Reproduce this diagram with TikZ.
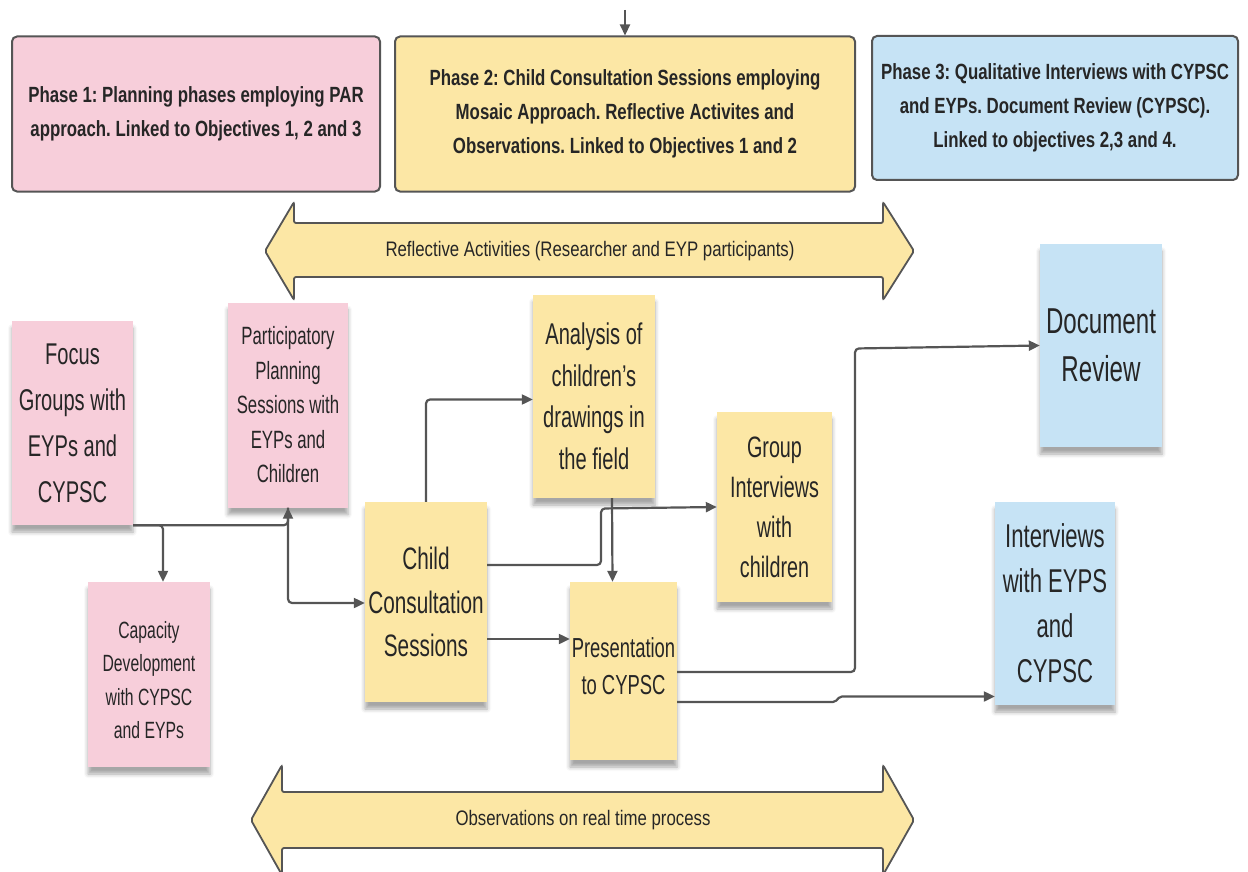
\documentclass[tikz,border=0pt]{standalone}
\usepackage{fontspec}
\setmainfont{Liberation Sans}[FakeStretch=0.67]
\newfontfamily\phasefont{Liberation Sans}[FakeStretch=0.765]
\newfontfamily\bandfont{Liberation Sans}[FakeStretch=0.8]
\usetikzlibrary{arrows.meta,calc,shadows.blur}

\definecolor{pinkfill}{HTML}{F7CEDA}
\definecolor{yellowfill}{HTML}{FCE7A5}
\definecolor{bluefill}{HTML}{C6E3F5}
\definecolor{edge}{HTML}{555555}
\definecolor{txt}{HTML}{262626}

\tikzset{
  phasebox/.style={draw=edge, line width=2pt, rounded corners=5pt, align=center,
    text=txt, font=\phasefont\bfseries\fontsize{22}{34}\selectfont, inner sep=0pt},
  sticky/.style={align=center, text=txt, inner sep=0pt,
    blur shadow={shadow xshift=0pt, shadow yshift=-7pt, shadow opacity=35, shadow blur radius=4pt}},
  notetext/.style={align=center, text=txt, inner sep=0pt},
  conn/.style={draw=edge, line width=2.2pt, rounded corners=4pt,
    -{Triangle[length=11pt,width=10pt]}},
  bigarrow/.style={draw=edge, fill=yellowfill, line width=1.8pt, rounded corners=2pt},
  bandlabel/.style={text=txt, font=\bandfont\fontsize{21}{24}\selectfont}
}

\begin{document}
\frenchspacing
\begin{tikzpicture}[x=1pt, y=-1pt]
  \useasboundingbox (0,0) rectangle (1248,872);

  % phase headers
  \node[phasebox, fill=pinkfill, minimum width=368pt, minimum height=155pt] (ph1) at (196,114)
    {Phase 1: Planning phases employing PAR\\approach. Linked to Objectives 1, 2 and 3};
  \node[phasebox, fill=yellowfill, minimum width=460pt, minimum height=155pt] (ph2) at (625,114)
    {Phase 2: Child Consultation Sessions employing\\Mosaic Approach. Reflective Activites and\\Observations. Linked to Objectives 1 and 2};
  \node[phasebox, fill=bluefill, minimum width=366pt, minimum height=144pt] (ph3) at (1055,108)
    {Phase 3: Qualitative Interviews with CYPSC\\and EYPs. Document Review (CYPSC).\\Linked to objectives 2,3 and 4.};

  % two-headed bands
  \draw[bigarrow] (265,251) -- (294,202) -- (294,223) -- (883,223) -- (883,202) -- (914,251)
    -- (883,300) -- (883,277) -- (294,277) -- (294,300) -- cycle;
  \node[bandlabel] (refl) at (590,251) {Reflective Activities (Researcher and EYP participants)};

  \draw[bigarrow] (251,820) -- (282,765) -- (282,792) -- (883,792) -- (883,765) -- (914,820)
    -- (883,875) -- (883,848) -- (282,848) -- (282,875) -- cycle;
  \node[bandlabel] (obs) at (583,820) {Observations on real time process};

  % sticky notes
  \node[sticky, fill=pinkfill, minimum width=121pt, minimum height=204pt,
    font=\fontsize{30}{46}\selectfont] (focus) at (72.5,423)
    {Focus\\Groups with\\EYPs and\\CYPSC};
  \node[sticky, fill=pinkfill, minimum width=120pt, minimum height=205pt,
    font=\fontsize{25}{34.5}\selectfont] (part) at (288,405)
    {Participatory\\Planning\\Sessions with\\EYPs and\\Children};
  \node[sticky, fill=pinkfill, minimum width=122pt, minimum height=185pt] (cap) at (149,674.5) {};
  \node[notetext, font=\fontsize{23.5}{33.5}\selectfont] (captext) at (149,680)
    {Capacity\\Development\\with CYPSC\\and EYPs};
  \node[sticky, fill=yellowfill, minimum width=122pt, minimum height=200pt,
    font=\fontsize{31}{43.5}\selectfont] (ccs) at (426,602)
    {Child\\Consultation\\Sessions};
  \node[sticky, fill=yellowfill, minimum width=122pt, minimum height=203pt,
    font=\fontsize{30}{41.5}\selectfont] (ana) at (594,396.5)
    {Analysis of\\children's\\drawings in\\the field};
  \node[sticky, fill=yellowfill, minimum width=115pt, minimum height=190pt,
    font=\fontsize{29.5}{40}\selectfont] (gint) at (774.5,507)
    {Group\\Interviews\\with\\children};
  \node[sticky, fill=yellowfill, minimum width=107pt, minimum height=178pt] (pres) at (623.5,671) {};
  \node[notetext, font=\fontsize{27.5}{37}\selectfont] (prestext) at (623.5,666.5)
    {Presentation\\to CYPSC};
  \node[sticky, fill=bluefill, minimum width=122pt, minimum height=203pt,
    font=\fontsize{36}{48}\selectfont] (doc) at (1101,345.5)
    {Document\\Review};
  \node[sticky, fill=bluefill, minimum width=120pt, minimum height=203pt,
    font=\fontsize{33}{45}\selectfont] (ieyp) at (1055,603.5)
    {Interviews\\with EYPS\\and\\CYPSC};

  % connectors
  \coordinate (topin) at (625,10);
  \draw[conn] (topin) -- (ph2.north);

  \draw[conn] (focus.south east) -| (part.south);
  \draw[conn] (focus.south east) -| ([xshift=14pt]cap.north);
  \draw[conn] (part.south) |- ([yshift=-1pt]ccs.west);
  \draw[conn] (ccs.north) |- ([yshift=-3pt]ana.west);
  \draw[conn] ([yshift=37pt]ccs.east) -- (601,565) -- (601,508.5) -- (gint.west);
  \draw[conn] ([xshift=18pt]ana.south) -- ([xshift=-11pt]pres.north);
  \draw[conn] ([yshift=-37pt]ccs.east) -- ([yshift=-37pt]ccs.east -| pres.west);
  \draw[conn] ([yshift=-1pt]pres.east) -- (855,672) -- (855,348.5) -- (doc.west);
  \draw[conn, rounded corners=2pt] ([yshift=-31pt]pres.east) -- (835,702) -- (840,696.5)
    -- ([yshift=-93pt]ieyp.west);
\end{tikzpicture}
\end{document}
